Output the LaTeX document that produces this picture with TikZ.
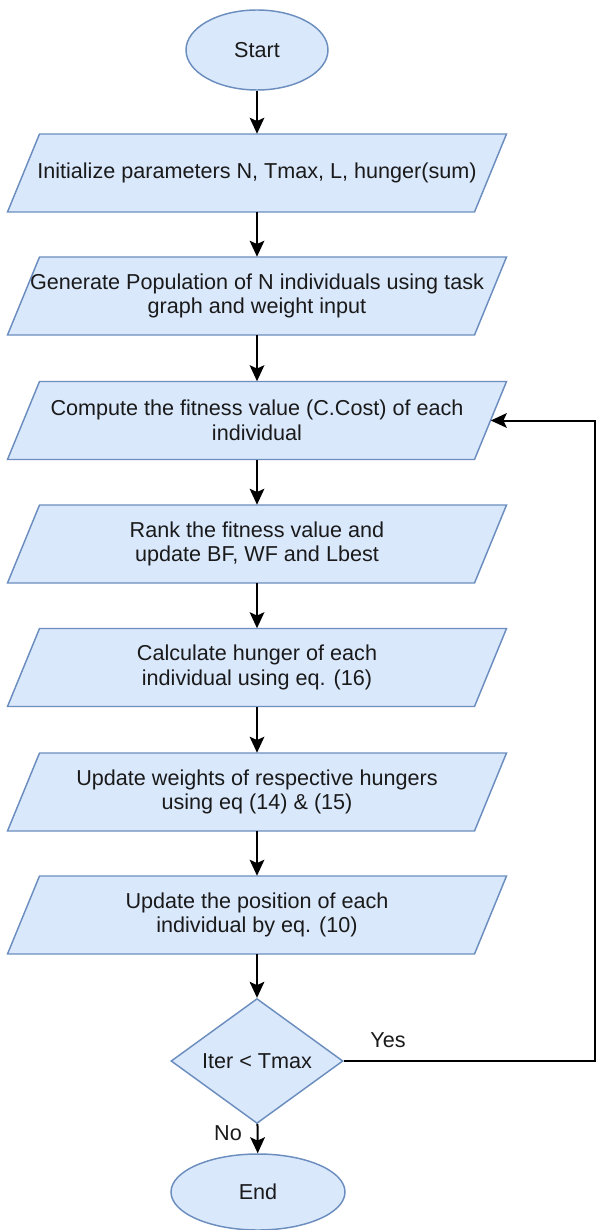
\documentclass[tikz,border=0pt]{standalone}
\usepackage{fontspec}
\setmainfont{Liberation Sans}
\usetikzlibrary{shapes.geometric,arrows.meta}
\definecolor{boxfill}{HTML}{DAE8FC}
\definecolor{boxline}{HTML}{6C8EBF}
\definecolor{txt}{HTML}{1A1A1A}
\tikzset{
  shapeline/.style={draw=boxline,fill=boxfill,line width=1.1pt},
  paratext/.style={inner sep=0pt,minimum width=350.25pt,minimum height=58.5pt,align=center,text=txt,font=\fontsize{16.2}{18.5}\selectfont},
  term/.style={ellipse,shapeline,inner sep=0pt,text=txt,font=\fontsize{16.2}{18.5}\selectfont},
  decision/.style={diamond,shapeline,inner sep=0pt,minimum width=129pt,minimum height=93pt,text=txt,font=\fontsize{16.2}{18.5}\selectfont},
  flow/.style={line width=1.5pt,-{Stealth[length=12pt,width=11pt,inset=2.5pt]}},
  lbl/.style={text=txt,font=\fontsize{16.2}{18.5}\selectfont,inner sep=0pt}
}
\newcommand\myPara[3]{%
  \path[shapeline] (257-217.5,#2-39) -- (257+249.5,#2-39) -- (257+217.5,#2+39) -- (257-249.5,#2+39) -- cycle;
  \node[paratext] (#1) at (257,#2) {#3};}
\begin{document}
\begin{tikzpicture}[x=0.75pt,y=-0.75pt]
\useasboundingbox (0,0) rectangle (597,1230);
\node[term,minimum width=106.5pt,minimum height=60pt] (start) at (257,50) {Start};
\myPara{p1}{173}{Initialize parameters N, Tmax, L, hunger(sum)}
\myPara{p2}{296}{Generate Population of N individuals using task\\graph and weight input}
\myPara{p3}{420.5}{Compute the fitness value (C.Cost) of each\\individual}
\myPara{p4}{544}{Rank the fitness value and\\update BF, WF and Lbest}
\myPara{p5}{667.5}{Calculate hunger of each\\individual using eq. (16)}
\myPara{p6}{792}{Update weights of respective hungers\\using eq (14) \& (15)}
\myPara{p7}{915}{Update the position of each\\individual by eq. (10)}
\node[decision] (dec) at (257,1061) {Iter < Tmax};
\node[term,minimum width=130.5pt,minimum height=57pt] (end) at (258,1192) {End};
\coordinate (loop) at (595,1061);
\draw[flow] (start) -- (p1);
\draw[flow] (p1) -- (p2);
\draw[flow] (p2) -- (p3);
\draw[flow] (p3) -- (p4);
\draw[flow] (p4) -- (p5);
\draw[flow] (p5) -- (p6);
\draw[flow] (p6) -- (p7);
\draw[flow] (p7) -- (dec);
\draw[flow] (dec) -- (end);
\draw[flow] (dec.east) -- (loop) |- (p3.east);
\node[lbl] (yes) at (388,1040) {Yes};
\node[lbl] (no) at (228,1133) {No};
\end{tikzpicture}
\end{document}
